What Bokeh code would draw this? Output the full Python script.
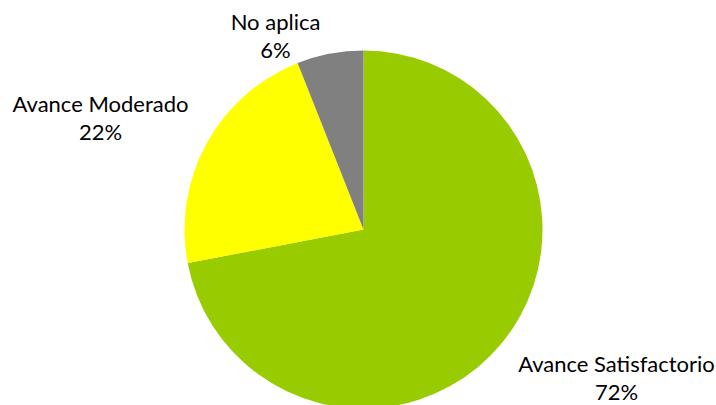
import math
from bokeh.plotting import figure
from bokeh.models import Range1d, ColumnDataSource
from bokeh.core.properties import value
from bokeh.embed import file_html
from bokeh.resources import INLINE

categories = ["Avance Satisfactorio", "Avance Moderado", "No aplica"]
values = [72, 22, 6]
colors = ["#99CC00", "#FFFF00", "#808080"]

# label anchor positions (layout, in plot pixels from bottom-left)
label_x = [616, 100, 275]
label_y = [42, 302, 384]

W, H = 716, 405
p = figure(width=W, height=H, output_backend="svg", toolbar_location=None,
           x_range=Range1d(0, W), y_range=Range1d(0, H), min_border=0,
           outline_line_color=None)
p.axis.visible = False
p.grid.visible = False
p.background_fill_color = "white"
p.border_fill_color = "white"

total = sum(values)
starts, ends = [], []
ang = math.pi / 2
for v in values:
    starts.append(ang)
    ang -= 2 * math.pi * v / total
    ends.append(ang)

cx, cy, r = 363, 176, 179
src = ColumnDataSource(dict(cat=categories, val=values, color=colors,
                            start=starts, end=ends))
p.wedge(x=cx, y=cy, radius=r, start_angle="start", end_angle="end",
        direction="clock", fill_color="color", line_color=None, source=src)

pct = [f"{round(100 * v / total)}%" for v in values]
lsrc = ColumnDataSource(dict(x=label_x, y=label_y, name=categories, pct=pct,
                             y2=[yy - 28 for yy in label_y]))
font = value("Lato")
p.text(x="x", y="y", text="name", source=lsrc, text_font=font,
       text_font_size="22px", text_align="center", text_baseline="alphabetic",
       text_color="#000000")
p.text(x="x", y="y2", text="pct", source=lsrc, text_font=font,
       text_font_size="22px", text_align="center", text_baseline="alphabetic",
       text_color="#000000")

open("out.html", "w").write(file_html(p, INLINE))
